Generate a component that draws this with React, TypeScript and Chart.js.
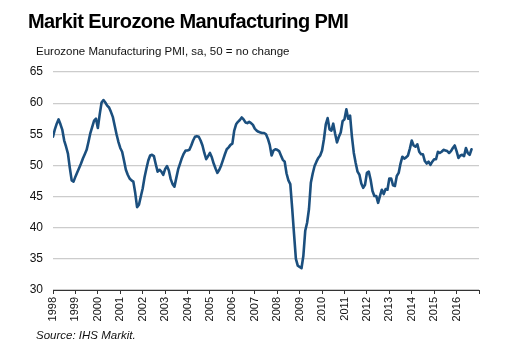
import { useEffect, useRef } from 'react';
import { Chart, registerables } from 'chart.js';

Chart.register(...registerables);

const FONT = "'Liberation Sans', Arial, sans-serif";

// Monthly PMI, Jan 1998 .. Sep 2016
const pmiValues = [
  54.6, 55.8, 56.7, 57.4, 56.6, 55.7, 54.0, 53.0, 51.9, 49.6, 47.6, 47.4,
  48.2, 48.9, 49.6, 50.3, 51.1, 51.8, 52.5, 53.8, 55.2, 56.2, 57.2, 57.5,
  56.0, 58.2, 60.1, 60.5, 60.1, 59.6, 59.3, 58.6, 57.8, 56.4, 55.0, 53.8,
  52.8, 52.2, 50.8, 49.3, 48.5, 47.9, 47.6, 47.4, 45.6, 43.3, 43.7, 45.0,
  46.3, 48.1, 49.5, 50.8, 51.6, 51.7, 51.5, 50.2, 49.0, 49.3, 49.0, 48.5,
  49.4, 49.9, 49.2, 47.8, 47.0, 46.6, 48.0, 49.4, 50.3, 51.2, 51.9, 52.4,
  52.4, 52.5, 53.2, 54.0, 54.6, 54.7, 54.6, 54.0, 53.2, 52.0, 51.0, 51.5,
  52.0, 51.3, 50.3, 49.5, 48.8, 49.3, 50.0, 50.9, 51.8, 52.6, 52.9, 53.3,
  53.5, 55.6, 56.6, 57.0, 57.3, 57.7, 57.4, 56.9, 56.8, 57.0, 56.8, 56.5,
  55.9, 55.6, 55.4, 55.3, 55.2, 55.2, 55.0, 54.3, 53.3, 51.6, 52.4, 52.6,
  52.5, 52.3, 51.6, 50.9, 50.6, 48.7, 47.6, 47.0, 43.2, 39.0, 35.0, 33.9,
  33.7, 33.5, 35.5, 39.5, 40.8, 43.0, 47.2, 48.7, 49.9, 50.6, 51.2, 51.6,
  52.4, 54.2, 56.6, 57.6, 55.8, 55.6, 56.7, 55.1, 53.7, 54.6, 55.3, 57.1,
  57.4, 59.0, 57.5, 58.0, 54.6, 52.0, 50.4, 49.0, 48.5, 47.1, 46.4, 46.9,
  48.8, 49.0, 47.7, 45.9, 45.1, 45.1, 44.0, 45.1, 46.1, 45.4, 46.2, 46.1,
  47.9, 47.9, 46.8, 46.7, 48.3, 48.8, 50.3, 51.4, 51.1, 51.3, 51.6, 52.7,
  54.0, 53.2, 53.0, 53.4, 52.2, 51.8, 51.8, 50.7, 50.3, 50.6, 50.1, 50.6,
  51.0, 51.0, 52.2, 52.0, 52.2, 52.5, 52.4, 52.3, 52.0, 52.3, 52.8, 53.2,
  52.3, 51.2, 51.6, 51.7, 51.5, 52.8, 52.0, 51.7, 52.6,
];

const yearLabels = [
  '1998', '1999', '2000', '2001', '2002', '2003', '2004', '2005', '2006', '2007',
  '2008', '2009', '2010', '2011', '2012', '2013', '2014', '2015', '2016', '',
];

const yMin = 30;
const yMax = 65;
const yStep = 5;

export default function App() {
  const ref = useRef<HTMLCanvasElement>(null);

  useEffect(() => {
    document.body.style.margin = '0';
    const canvas = ref.current;
    if (!canvas) return;
    const chart = new Chart(canvas, {
      type: 'line',
      data: {
        datasets: [
          {
            data: pmiValues.map((v, i) => ({ x: i, y: v })),
            borderColor: '#1b4f7e',
            borderWidth: 2.6,
            pointRadius: 0,
            tension: 0,
            fill: false,
            borderJoinStyle: 'round',
            borderCapStyle: 'round',
          },
        ],
      },
      options: {
        responsive: false,
        animation: false,
        devicePixelRatio: 1,
        layout: { padding: { left: 0, top: 72, right: 27, bottom: 26 } },
        plugins: {
          legend: { display: false },
          tooltip: { enabled: false },
          title: { display: false },
        },
        scales: {
          x: {
            type: 'linear',
            min: 0,
            max: (yearLabels.length - 1) * 12,
            afterBuildTicks: (s: any) => {
              s.ticks = yearLabels.map((_, i) => ({ value: i * 12 }));
            },
            afterFit: (s: any) => {
              s.height = 40;
            },
            ticks: {
              autoSkip: false,
              minRotation: 90,
              maxRotation: 90,
              padding: 3,
              color: '#111',
              font: { family: FONT, size: 11 },
              callback: (v: any) => yearLabels[Math.round(Number(v) / 12)] ?? '',
            },
            grid: {
              drawOnChartArea: false,
              drawTicks: true,
              tickLength: 4,
              color: '#333',
              lineWidth: 1,
            },
            border: { display: true, color: '#333', width: 1 },
          },
          y: {
            min: yMin,
            max: yMax,
            afterFit: (s: any) => {
              s.width = 53;
            },
            ticks: {
              stepSize: yStep,
              padding: 10,
              color: '#111',
              font: { family: FONT, size: 12 },
            },
            grid: { color: '#cccccc', lineWidth: 1.2, drawTicks: false },
            border: { display: false },
          },
        },
      },
    });
    return () => chart.destroy();
  }, []);

  return (
    <div style={{ position: 'relative', width: 506, height: 356, background: '#fff', fontFamily: FONT }}>
      <canvas
        ref={ref}
        width={506}
        height={356}
        style={{ position: 'absolute', left: 0, top: 0, width: 506, height: 356 }}
      />
      <div
        style={{
          position: 'absolute', left: 28, top: 11.4, fontSize: 20, lineHeight: '20px',
          fontWeight: 'bold', letterSpacing: '-0.6px', color: '#000', whiteSpace: 'nowrap',
        }}
      >
        Markit Eurozone Manufacturing PMI
      </div>
      <div
        style={{
          position: 'absolute', left: 36, top: 46.3, fontSize: 11.5, lineHeight: '11.5px',
          color: '#111', whiteSpace: 'nowrap',
        }}
      >
        Eurozone Manufacturing PMI, sa, 50 = no change
      </div>
      <div
        style={{
          position: 'absolute', left: 36, top: 330.3, fontSize: 11.5, lineHeight: '11.5px',
          fontStyle: 'italic', color: '#111', whiteSpace: 'nowrap',
        }}
      >
        Source: IHS Markit.
      </div>
    </div>
  );
}
